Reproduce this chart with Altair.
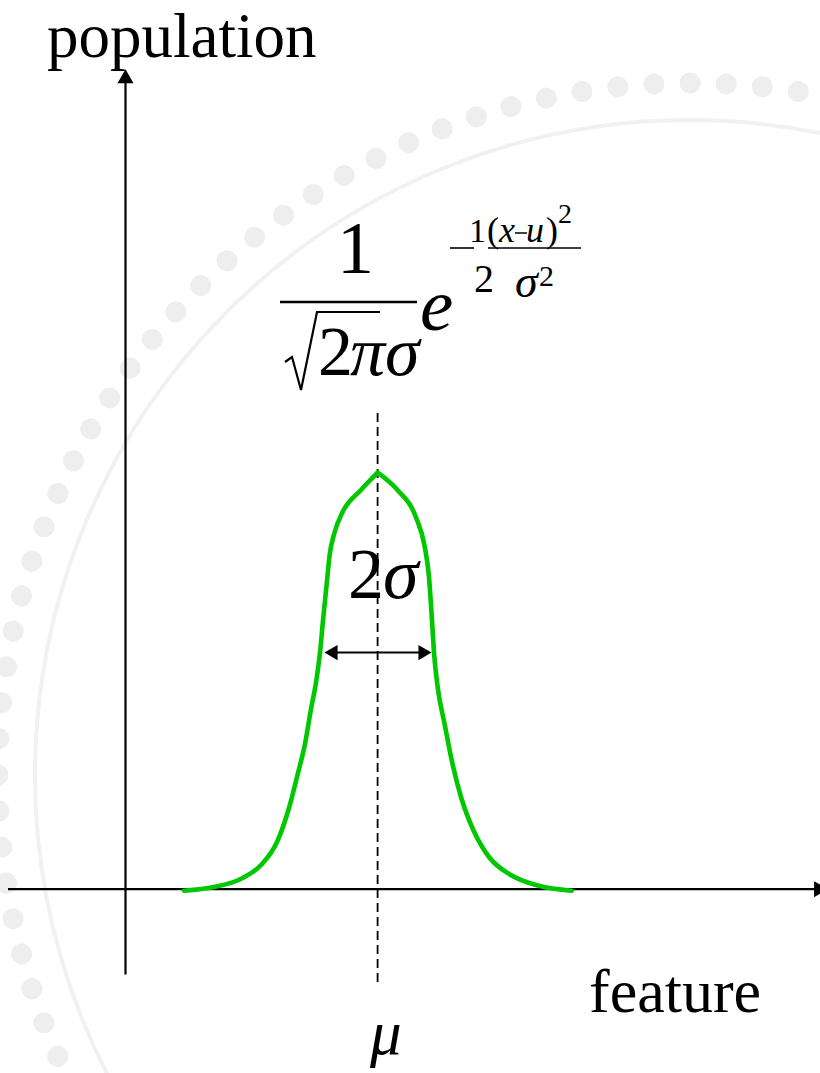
import altair as alt
import pandas as pd

W, H = 820, 1073
SERIF = "Liberation Serif"
GREEN = "#00c800"

# Bell curve, traced as two halves that meet at the peak (x, y in canvas units)
left_x = [184, 214, 240.6, 261.5, 277, 289, 298, 305, 311, 316.4, 320, 323, 327, 329.5, 334.7, 342.6, 361, 377.6]
left_y = [890.7, 887, 879, 864.6, 842, 808, 773, 744, 709, 680, 652.6, 620.5, 581, 556, 532, 512, 490, 472.6]
right_x = [377.6, 397.5, 415.8, 424.7, 428.9, 432, 434, 438, 444.6, 452.4, 461.3, 473.3, 489, 510, 538.7, 571.7]
right_y = [472.6, 490, 517, 546.5, 576, 620.5, 652.6, 689.5, 724, 763.5, 798, 830, 857, 874.5, 885.8, 890.7]

# Axis lines, width marker, fraction bars and the minus sign: x, x2, y, y2, stroke width
seg_x = [125.5, 8, 331, 280, 450, 488, 515]
seg_x2 = [125.5, 815, 425, 417, 474, 581, 527]
seg_y = [974.5, 889.2, 652.6, 302, 248, 248, 233]
seg_y2 = [80, 889.2, 652.6, 302, 248, 248, 233]
seg_w = [2.2, 2.2, 2.0, 2.6, 1.6, 1.6, 1.5]

# Arrow heads
head_x = [125.5, 821, 331, 425]
head_y = [76.2, 889.2, 652.6, 652.6]
head_shape = ["triangle-up", "triangle-right", "triangle-left", "triangle-right"]
head_size = [256, 256, 230, 230]

# Mean marker
mu_x = 377.6
mu_top, mu_bottom = 413, 985

# Radical sign of the normalising constant
rad_x = [285, 292, 301, 317, 380]
rad_y = [362, 357, 390, 312, 312]

# Upright labels
up_text = ["population", "feature", "1", "2", "2", "1", "(", ")", "2", "2", "2"]
up_x = [47, 589, 337, 318, 348, 469, 487, 546, 558, 474, 539]
up_y = [57, 1012, 273, 375, 598, 242, 242, 242, 223, 292, 286]
up_size = [63, 62, 74, 70, 72, 34, 36, 36, 28, 40, 30]

# Italic (math) labels
it_text = ["πσ", "e", "σ", "x", "u", "σ", "μ"]
it_x = [350, 420, 383, 499, 526, 515, 370]
it_y = [375, 330, 598, 242, 242, 297, 1054]
it_size = [70, 75, 72, 36, 36, 46, 63]

# Faint seal in the background: centre, beaded ring and inner border
seal_x, seal_y = [690], [775]
seal_dot_r = [692]
seal_line_r = [655]

xscale = alt.Scale(domain=[0, W], nice=False, zero=False)
yscale = alt.Scale(domain=[0, H], reverse=True, nice=False, zero=False)


def X(f):
    return alt.X(f"{f}:Q", scale=xscale, axis=None)


def Y(f):
    return alt.Y(f"{f}:Q", scale=yscale, axis=None)


dots = pd.DataFrame({"x": seal_x * len(seal_dot_r), "y": seal_y * len(seal_dot_r), "r": seal_dot_r})
dot_layer = alt.Chart(dots).mark_arc(
    theta=0, theta2=6.2832, filled=False, stroke="#eeeeee", strokeWidth=21,
    strokeDash=[0.1, 36.13], strokeCap="round",
).encode(x=X("x"), y=Y("y"), radius=alt.Radius("r:Q", scale=None))

rings = pd.DataFrame({"x": seal_x * len(seal_line_r), "y": seal_y * len(seal_line_r), "r": seal_line_r})
ring_layer = alt.Chart(rings).mark_arc(
    theta=0, theta2=6.2832, filled=False, stroke="#f1f1f1", strokeWidth=4,
).encode(x=X("x"), y=Y("y"), radius=alt.Radius("r:Q", scale=None))

curve = pd.DataFrame({
    "x": left_x + right_x,
    "y": left_y + right_y,
    "side": ["left"] * len(left_x) + ["right"] * len(right_x),
})
curve_layer = alt.Chart(curve).mark_line(
    color=GREEN, strokeWidth=4.6, interpolate="monotone", strokeCap="round"
).encode(x=X("x"), y=Y("y"), detail="side:N")

segs = pd.DataFrame({"x": seg_x, "x2": seg_x2, "y": seg_y, "y2": seg_y2, "w": seg_w})
seg_layer = alt.Chart(segs).mark_rule(color="black").encode(
    x=X("x"), x2="x2:Q", y=Y("y"), y2="y2:Q",
    strokeWidth=alt.StrokeWidth("w:Q", scale=None),
)

heads = pd.DataFrame({"x": head_x, "y": head_y, "shape": head_shape, "s": head_size})
head_layer = alt.Chart(heads).mark_point(filled=True, color="black", opacity=1, strokeWidth=0).encode(
    x=X("x"), y=Y("y"),
    shape=alt.Shape("shape:N", scale=None),
    size=alt.Size("s:Q", scale=None),
)

mu_df = pd.DataFrame({"x": [mu_x], "y": [mu_top], "y2": [mu_bottom]})
mu_layer = alt.Chart(mu_df).mark_rule(color="black", strokeWidth=1.8, strokeDash=[9, 5]).encode(
    x=X("x"), y=Y("y"), y2="y2:Q"
)

rad = pd.DataFrame({"x": rad_x, "y": rad_y, "i": list(range(len(rad_x)))})
rad_layer = alt.Chart(rad).mark_line(color="black", strokeWidth=2.2, strokeJoin="miter").encode(
    x=X("x"), y=Y("y"), order="i:Q"
)

up = pd.DataFrame({"t": up_text, "x": up_x, "y": up_y, "s": up_size})
up_layer = alt.Chart(up).mark_text(
    font=SERIF, align="left", baseline="alphabetic", color="black"
).encode(x=X("x"), y=Y("y"), text="t:N", size=alt.Size("s:Q", scale=None))

it = pd.DataFrame({"t": it_text, "x": it_x, "y": it_y, "s": it_size})
it_layer = alt.Chart(it).mark_text(
    font=SERIF, fontStyle="italic", align="left", baseline="alphabetic", color="black"
).encode(x=X("x"), y=Y("y"), text="t:N", size=alt.Size("s:Q", scale=None))

chart = alt.layer(
    dot_layer, ring_layer, mu_layer, seg_layer, head_layer, rad_layer, curve_layer, up_layer, it_layer
).properties(
    width=W, height=H, padding=0, autosize=alt.AutoSizeParams(type="none"), background="white"
).configure_view(stroke=None)

chart.save("out.html", embed_options={"renderer": "svg", "actions": False})
